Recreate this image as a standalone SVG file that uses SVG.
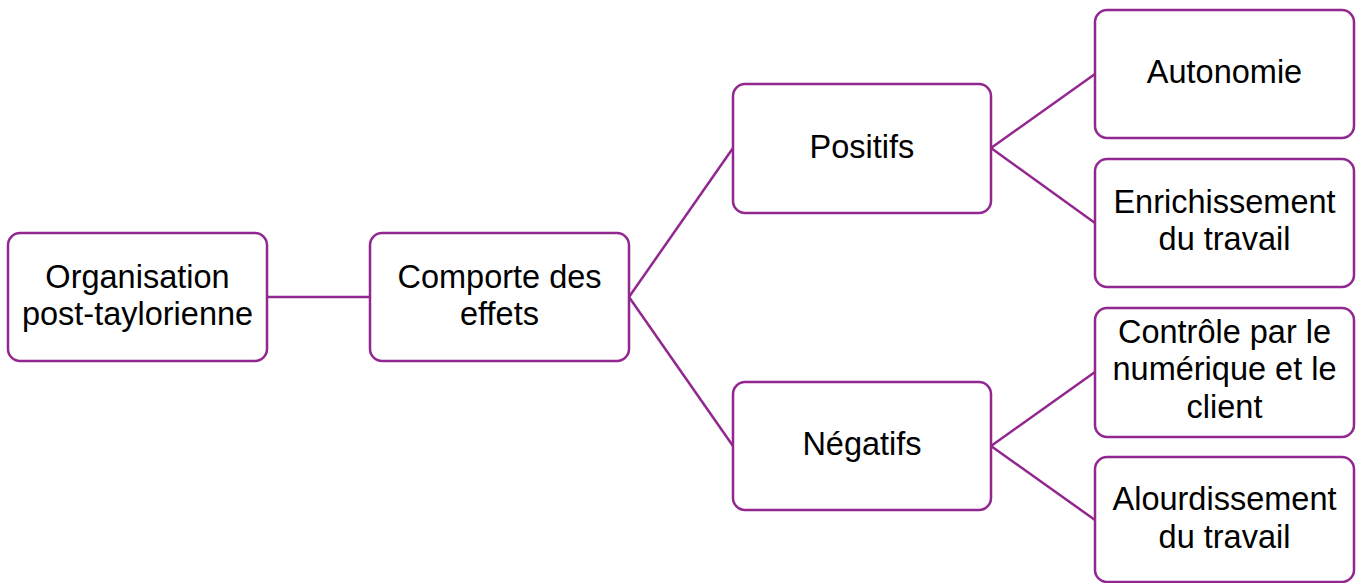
<svg xmlns="http://www.w3.org/2000/svg" width="1359" height="583" viewBox="0 0 1359 583">
<style>
.box{fill:#fff;stroke:#92278f;stroke-width:2.5}
.lbl{font-family:"Liberation Sans",Arial,sans-serif;font-size:32.5px;fill:#000;text-anchor:middle}
.edge{stroke:#92278f;stroke-width:2.5;fill:none}
</style>
<rect width="1359" height="583" fill="#fff"/>
<g id="connectors">
<line class="edge" x1="267" y1="297" x2="370" y2="297"/>
<line class="edge" x1="629" y1="297" x2="733" y2="148"/>
<line class="edge" x1="629" y1="297" x2="733" y2="446"/>
<line class="edge" x1="991" y1="148" x2="1095" y2="74"/>
<line class="edge" x1="991" y1="148" x2="1095" y2="223"/>
<line class="edge" x1="991" y1="446" x2="1095" y2="372"/>
<line class="edge" x1="991" y1="446" x2="1095" y2="520"/>
</g>
<g id="n-org">
<rect class="box" x="8" y="233" width="259" height="128" rx="12"/>
<text class="lbl" x="137.5" y="288">Organisation</text>
<text class="lbl" x="137.5" y="325">post-taylorienne</text>
</g>
<g id="n-comporte">
<rect class="box" x="370" y="233" width="259" height="128" rx="12"/>
<text class="lbl" x="499.5" y="288">Comporte des</text>
<text class="lbl" x="499.5" y="325">effets</text>
</g>
<g id="n-positifs">
<rect class="box" x="733" y="84" width="258" height="129" rx="12"/>
<text class="lbl" x="862" y="158">Positifs</text>
</g>
<g id="n-negatifs">
<rect class="box" x="733" y="382" width="258" height="128" rx="12"/>
<text class="lbl" x="862" y="455">Négatifs</text>
</g>
<g id="n-autonomie">
<rect class="box" x="1095" y="10" width="259" height="128" rx="12"/>
<text class="lbl" x="1224.5" y="83">Autonomie</text>
</g>
<g id="n-enrichissement">
<rect class="box" x="1095" y="159" width="259" height="128" rx="12"/>
<text class="lbl" x="1224.5" y="213">Enrichissement</text>
<text class="lbl" x="1224.5" y="250">du travail</text>
</g>
<g id="n-controle">
<rect class="box" x="1095" y="308" width="259" height="129" rx="12"/>
<text class="lbl" x="1224.5" y="343">Contrôle par le</text>
<text class="lbl" x="1224.5" y="380">numérique et le</text>
<text class="lbl" x="1224.5" y="418">client</text>
</g>
<g id="n-alourdissement">
<rect class="box" x="1095" y="457" width="259" height="125" rx="12"/>
<text class="lbl" x="1224.5" y="510">Alourdissement</text>
<text class="lbl" x="1224.5" y="548">du travail</text>
</g>
</svg>
